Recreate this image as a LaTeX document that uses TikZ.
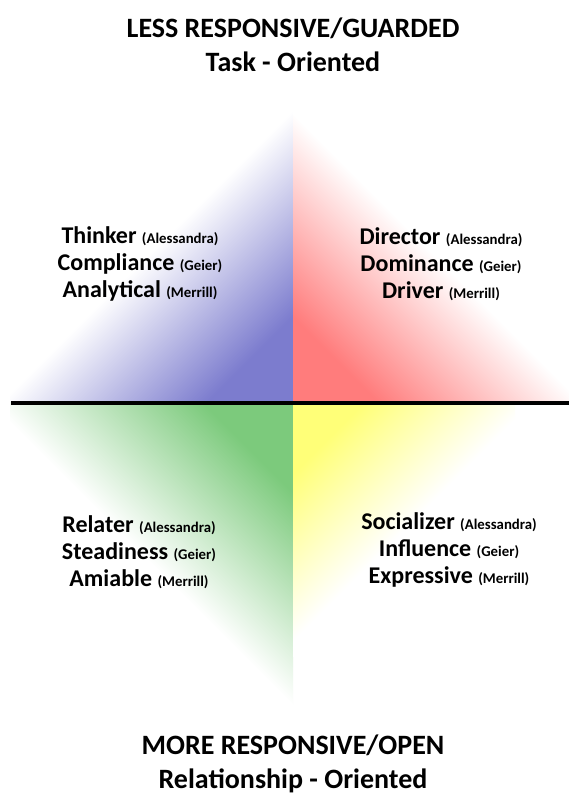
\documentclass[tikz,border=0pt]{standalone}
\usepackage{fontspec}
\setmainfont{Carlito}
\definecolor{qblue}{RGB}{124,124,206}
\definecolor{qred}{RGB}{255,124,124}
\definecolor{qgreen}{RGB}{124,202,124}
\definecolor{qyellow}{RGB}{255,255,120}
\newcommand\auth[1]{{\fontsize{14.8}{14.8}\selectfont #1}}
\tikzset{
  heading/.style={font=\bfseries\fontsize{28}{34}\selectfont, align=center},
  qlabel/.style={font=\bfseries\fontsize{24}{27}\selectfont, align=center},
  axisline/.style={line width=4pt}
}
\begin{document}
\begin{tikzpicture}[x=1pt,y=1pt]
\useasboundingbox[fill=white] (0,0) rectangle (569,797);
% quadrants
\shade[bottom color=qblue, top color=white, middle color=white, shading angle=45] (10,394) rectangle (293,697);
\shade[bottom color=qred, top color=white, middle color=white, shading angle=-45] (293,394) rectangle (569,697);
\shade[top color=qgreen, bottom color=white, middle color=white, shading angle=-45] (10,72) rectangle (293,394);
\shade[top color=qyellow, bottom color=white, middle color=white, shading angle=45] (293,140) rectangle (515,394);
% axis
\coordinate (L) at (11,394);
\coordinate (R) at (569,394);
\draw[axisline] (L) -- (R);
% headings
\node[heading] (top) at (293,752) {LESS RESPONSIVE/GUARDED\\Task - Oriented};
\node[heading] (bottom) at (293,33) {MORE RESPONSIVE/OPEN\\Relationship - Oriented};
% quadrant labels
\node[qlabel] (tl) at (140,533) {Thinker \auth{(Alessandra)}\\Compliance \auth{(Geier)}\\Analytical \auth{(Merrill)}};
\node[qlabel] (tr) at (441,533) {Director \auth{(Alessandra)}\\Dominance \auth{(Geier)}\\Driver \auth{(Merrill)}};
\node[qlabel] (bl) at (139,245) {Relater \auth{(Alessandra)}\\Steadiness \auth{(Geier)}\\Amiable \auth{(Merrill)}};
\node[qlabel] (br) at (449,247) {Socializer \auth{(Alessandra)}\\Influence \auth{(Geier)}\\Expressive \auth{(Merrill)}};
\end{tikzpicture}
\end{document}
